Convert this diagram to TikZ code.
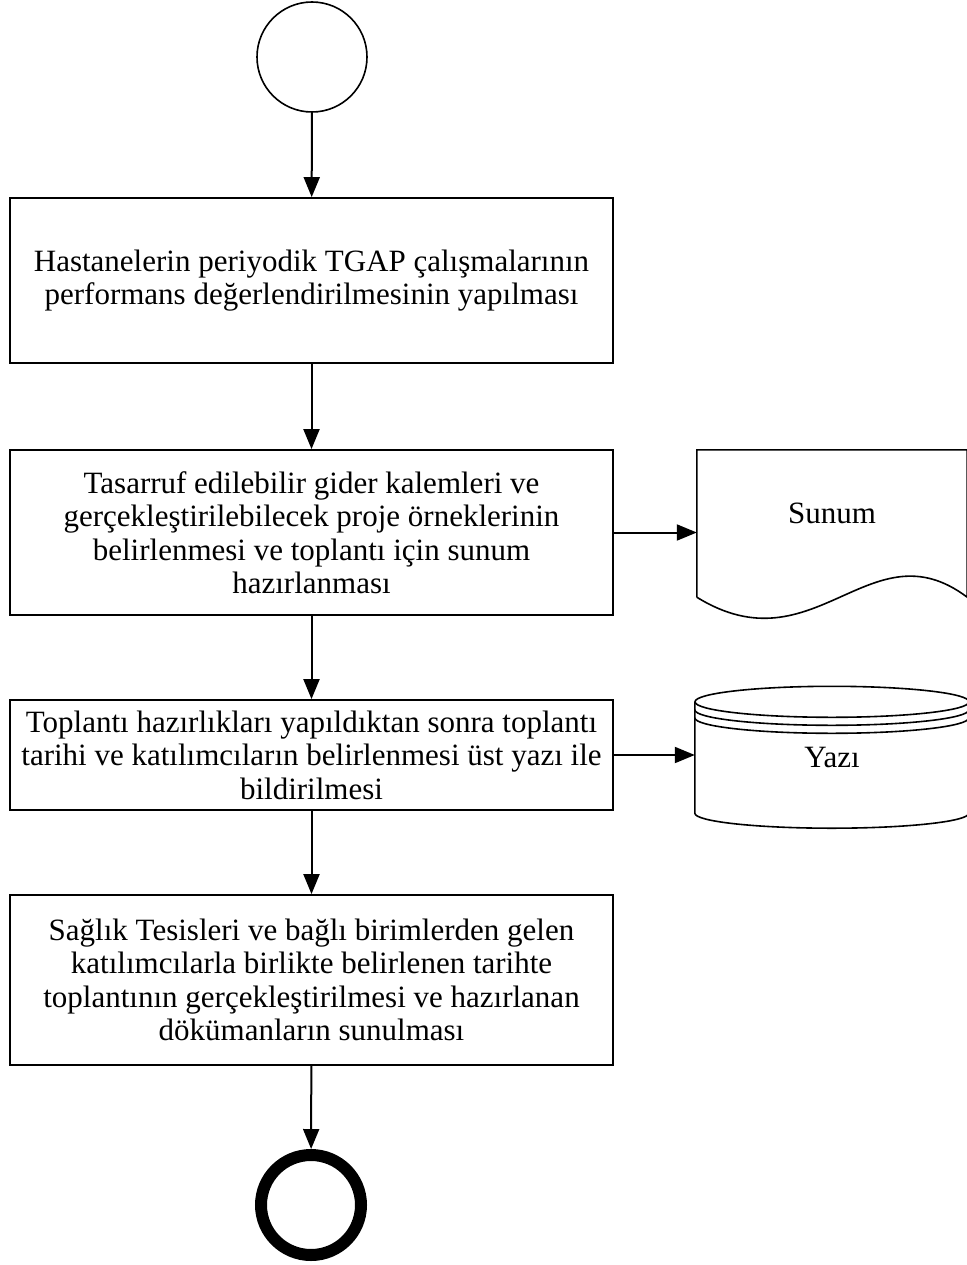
\documentclass[tikz,border=0pt]{standalone}
\usepackage{fontspec}
\setmainfont{Liberation Serif}
\usetikzlibrary{arrows.meta, calc}

\begin{document}
\begin{tikzpicture}[
        x=1pt, y=1pt,
        >={Triangle[length=20pt, width=16pt]},
        every node/.style={font=\fontsize{31}{33.5}\selectfont},
        process/.style={draw, rectangle, line width=1.8pt, minimum width=603pt, align=center, inner sep=0pt},
        outline/.style={line width=1.6pt},
        link/.style={->, line width=2pt}
    ]
        \useasboundingbox (0,0) rectangle (966,-1265);

        % Nodes
        \node (start) [draw, circle, line width=1.6pt, minimum size=110pt] at (312,-57) {};
        \node (perf) [process, minimum height=165pt] at (311.5,-280.5) {Hastanelerin periyodik TGAP çalışmalarının\\performans değerlendirilmesinin yapılması};
        \node (prep) [process, minimum height=165pt] at (311.5,-532.5) {Tasarruf edilebilir gider kalemleri ve\\gerçekleştirilebilecek proje örneklerinin\\belirlenmesi ve toplantı için sunum\\hazırlanması};
        \node (notify) [process, minimum height=110pt] at (311.5,-755) {Toplantı hazırlıkları yapıldıktan sonra toplantı\\tarihi ve katılımcıların belirlenmesi üst yazı ile\\bildirilmesi};
        \node (meet) [process, minimum height=170pt] at (311.5,-980) {Sağlık Tesisleri ve bağlı birimlerden gelen\\katılımcılarla birlikte belirlenen tarihte\\toplantının gerçekleştirilmesi ve hazırlanan\\dökümanların sunulması};
        \node (stop) [draw, circle, line width=12pt, minimum size=100pt] at (311,-1205) {};
        \node (sunum) [minimum width=270pt, minimum height=126pt, inner sep=0pt] at (832,-513) {Sunum};
        \node (yazi) [minimum width=274pt, minimum height=111pt, inner sep=0pt] at (832,-757.5) {Yazı};

        % Document shape
        \draw [outline] ($(sunum.south west)+(0,-21)$) -- (sunum.north west) -- (sunum.north east) -- ($(sunum.south east)+(0,-21)$)
            .. controls ($(sunum.south east)+(-97,52)$) and ($(sunum.south west)+(118,-94)$) .. ($(sunum.south west)+(0,-21)$);

        % Stored data shape
        \draw [outline] (yazi.north west) -- (yazi.south west) arc[start angle=180, end angle=360, x radius=137pt, y radius=15pt] -- (yazi.north east);
        \draw [outline] (yazi.north) ellipse[x radius=137pt, y radius=15.5pt];
        \draw [outline] ($(yazi.north west)+(0,-8)$) arc[start angle=180, end angle=360, x radius=137pt, y radius=15.5pt];
        \draw [outline] ($(yazi.north west)+(0,-16)$) arc[start angle=180, end angle=360, x radius=137pt, y radius=15.5pt];

        % Arrows
        \draw [link] (start) -- (perf);
        \draw [link] (perf) -- (prep);
        \draw [link] (prep) -- (notify);
        \draw [link] (notify) -- (meet);
        \draw [link] (meet) -- (stop);
        \draw [link] (prep.east) -- (prep.east -| sunum.west);
        \draw [link] (notify.east) -- (notify.east -| yazi.west);
    \end{tikzpicture}
\end{document}
